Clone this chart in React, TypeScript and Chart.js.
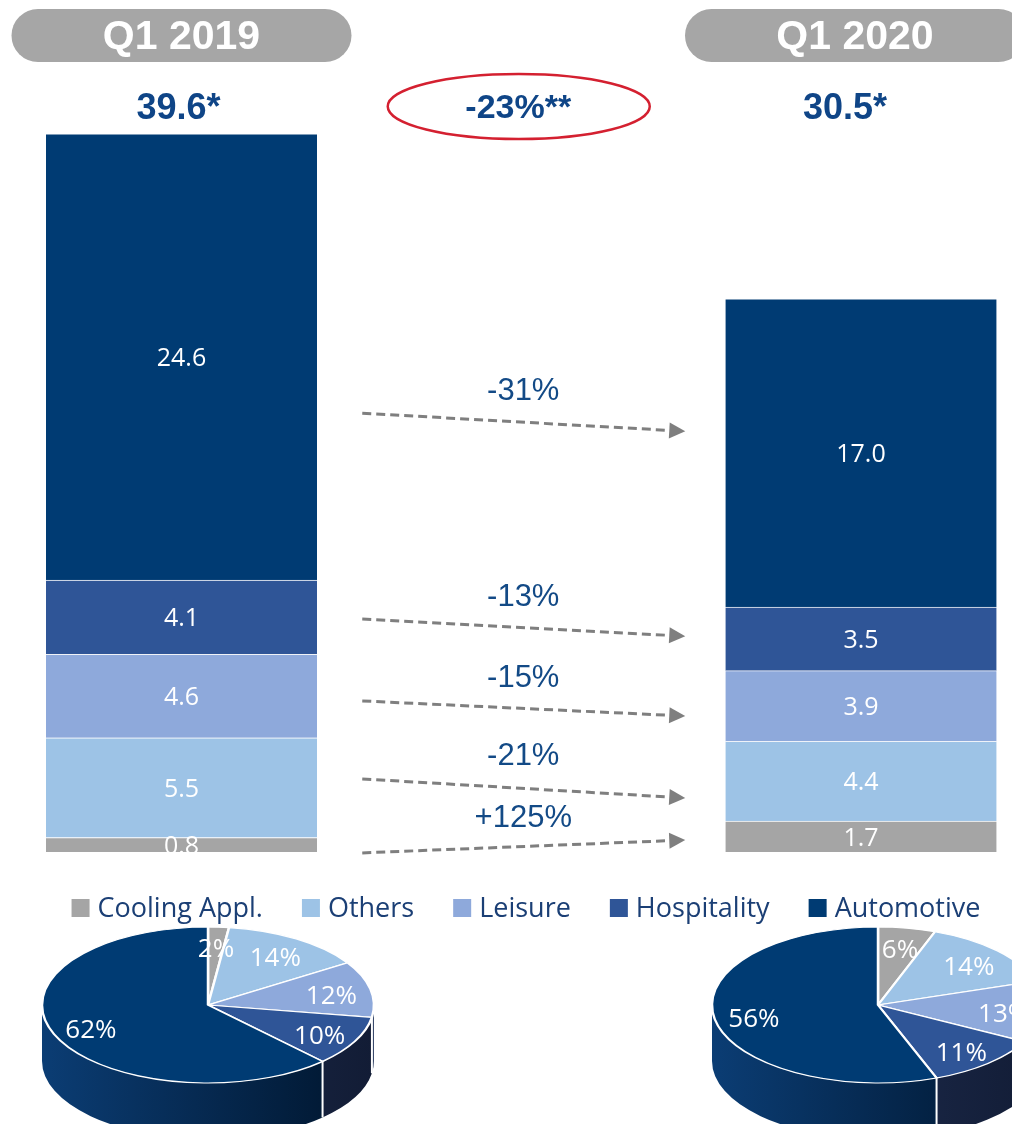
import React, { useEffect, useRef } from 'react';
import { Chart, registerables } from 'chart.js';

Chart.register(...registerables);

// ---- data ----
const PERIODS = ['Q1 2019', 'Q1 2020'];
const SEGMENTS = ['Cooling Appl.', 'Others', 'Leisure', 'Hospitality', 'Automotive'];
const Q1_2019 = [0.8, 5.5, 4.6, 4.1, 24.6];
const Q1_2020 = [1.7, 4.4, 3.9, 3.5, 17.0];
const CHANGE_LABELS = ['+125%', '-21%', '-15%', '-13%', '-31%'];
// arrow annotation levels in value units (left end, right end)
const ARROW_FROM = [-0.05, 4.03, 8.33, 12.85, 24.2];
const ARROW_TO = [0.66, 2.98, 7.5, 11.9, 23.2];

// ---- styles ----
const COLORS = ['#A5A5A5', '#9DC3E6', '#8EA9DB', '#2F5597', '#003B73'];
const SIDE_COLORS = [
  ['#6A6A6A', '#4A4A4A'],
  ['#6A86A3', '#4C6580'],
  ['#55688F', '#3A4A6C'],
  ['#22335A', '#121C35'],
  ['#0B3D74', '#00142B'],
];
const TEXT_BLUE = '#0F4587';
const LEGEND_BLUE = '#1B3F75';
const SANS = '"Liberation Sans", Arial, sans-serif';
const OPEN = '"Open Sans", "Noto Sans", sans-serif';
const PIE_K = 0.47;
const PIE_DEPTH = 56;

function pill(ctx: CanvasRenderingContext2D, cx: number, y: number, w: number, h: number) {
  const r = h / 2;
  const l = cx - w / 2, rt = cx + w / 2;
  ctx.beginPath();
  ctx.moveTo(l + r, y);
  ctx.lineTo(rt - r, y);
  ctx.arc(rt - r, y + r, r, -Math.PI / 2, Math.PI / 2);
  ctx.lineTo(l + r, y + h);
  ctx.arc(l + r, y + r, r, Math.PI / 2, Math.PI * 1.5);
  ctx.closePath();
  ctx.fill();
}

const barDecor = {
  id: 'barDecor',
  afterDatasetsDraw(chart: any) {
    const ctx = chart.ctx as CanvasRenderingContext2D;
    ctx.save();
    ctx.beginPath();
    ctx.rect(0, 0, chart.width, chart.chartArea.bottom);
    ctx.clip();
    ctx.fillStyle = '#FFFFFF';
    ctx.font = `25px ${OPEN}`;
    ctx.textAlign = 'center';
    ctx.textBaseline = 'middle';
    chart.data.datasets.forEach((ds: any, di: number) => {
      const meta = chart.getDatasetMeta(di);
      meta.data.forEach((el: any, i: number) => {
        const v = ds.data[i];
        if (v == null) return;
        ctx.fillText(Number(v).toFixed(1), el.x, (el.y + el.base) / 2 + 2);
      });
    });
    ctx.restore();
  },
  afterDraw(chart: any) {
    const ctx = chart.ctx as CanvasRenderingContext2D;
    const xs = chart.scales.x, ys = chart.scales.y;
    const c0 = xs.getPixelForValue(0), c1 = xs.getPixelForValue(1), c2 = xs.getPixelForValue(2);
    ctx.save();
    // period pills
    ctx.fillStyle = '#A6A6A6';
    pill(ctx, c0, 9, 340, 53);
    pill(ctx, c2 - 6, 9, 340, 53);
    ctx.fillStyle = '#FFFFFF';
    ctx.font = `bold 41px ${SANS}`;
    ctx.textAlign = 'center';
    ctx.textBaseline = 'middle';
    ctx.fillText(PERIODS[0], c0, 38);
    ctx.fillText(PERIODS[1], c2 - 6, 38);
    // totals
    const t0 = Q1_2019.reduce((a, b) => a + b, 0);
    const t1 = Q1_2020.reduce((a, b) => a + b, 0);
    ctx.fillStyle = TEXT_BLUE;
    ctx.font = `bold 36px ${SANS}`;
    ctx.fillText(t0.toFixed(1) + '*', c0 - 3, 109);
    ctx.fillText(t1.toFixed(1) + '*', c2 - 16, 109);
    ctx.font = `bold 34px ${SANS}`;
    const pct = Math.round((t1 / t0 - 1) * 100);
    ctx.fillText(`${pct}%**`, c1 - 3, 109);
    ctx.strokeStyle = '#D42030';
    ctx.lineWidth = 2.5;
    ctx.beginPath();
    ctx.ellipse(c1 - 2.5, 106.5, 131, 32.5, 0, 0, Math.PI * 2);
    ctx.stroke();

    // arrows
    const x0 = c1 - 159, x1 = c1 + 164;
    for (let i = 0; i < CHANGE_LABELS.length; i++) {
      const y0 = ys.getPixelForValue(ARROW_FROM[i]);
      const y1 = ys.getPixelForValue(ARROW_TO[i]);
      const ang = Math.atan2(y1 - y0, x1 - x0);
      const hl = 16, hw = 8;
      const bx = x1 - hl * Math.cos(ang), by = y1 - hl * Math.sin(ang);
      ctx.strokeStyle = '#7F7F7F';
      ctx.lineWidth = 3;
      ctx.setLineDash([9, 5]);
      ctx.beginPath();
      ctx.moveTo(x0, y0);
      ctx.lineTo(bx, by);
      ctx.stroke();
      ctx.setLineDash([]);
      ctx.fillStyle = '#7F7F7F';
      ctx.beginPath();
      ctx.moveTo(x1, y1);
      ctx.lineTo(bx - hw * Math.sin(ang), by + hw * Math.cos(ang));
      ctx.lineTo(bx + hw * Math.sin(ang), by - hw * Math.cos(ang));
      ctx.closePath();
      ctx.fill();
      ctx.fillStyle = '#134A86';
      ctx.font = `31px ${SANS}`;
      ctx.textAlign = 'center';
      ctx.textBaseline = 'middle';
      ctx.fillText(CHANGE_LABELS[i], c1 + 2, Math.min(y0, y1) - 22);
    }

    // legend
    ctx.font = `27px ${OPEN}`;
    const box = 18, gap = 8, spacing = 39;
    const widths = chart.data.datasets.map((d: any) => ctx.measureText(d.label).width);
    const total = widths.reduce((a: number, w: number) => a + box + gap + w, 0) + spacing * (widths.length - 1);
    let lx = 526 - total / 2;
    const ly = 908;
    chart.data.datasets.forEach((d: any, i: number) => {
      ctx.fillStyle = d.backgroundColor;
      ctx.fillRect(lx, ly - box / 2, box, box);
      ctx.fillStyle = LEGEND_BLUE;
      ctx.textAlign = 'left';
      ctx.textBaseline = 'middle';
      ctx.fillText(d.label, lx + box + gap, ly + 1);
      lx += box + gap + widths[i] + spacing;
    });
    ctx.restore();
  },
};

const pie3d = {
  id: 'pie3d',
  beforeDatasetsDraw(chart: any) {
    const ctx = chart.ctx as CanvasRenderingContext2D;
    const arcs = chart.getDatasetMeta(0).data;
    const cx = arcs[0].x, cy = arcs[0].y, r = arcs[0].outerRadius;
    const ry = r * PIE_K;
    ctx.save();
    arcs.forEach((arc: any, i: number) => {
      const a = Math.max(arc.startAngle, 0);
      const b = Math.min(arc.endAngle, Math.PI);
      if (a >= b) return;
      const g = ctx.createLinearGradient(cx - r, 0, cx + r, 0);
      g.addColorStop(0, SIDE_COLORS[i][0]);
      g.addColorStop(1, SIDE_COLORS[i][1]);
      ctx.fillStyle = g;
      ctx.beginPath();
      ctx.ellipse(cx, cy, r, ry, 0, a, b);
      ctx.lineTo(cx + r * Math.cos(b), cy + ry * Math.sin(b) + PIE_DEPTH);
      ctx.ellipse(cx, cy + PIE_DEPTH, r, ry, 0, b, a, true);
      ctx.closePath();
      ctx.fill();
    });
    ctx.strokeStyle = '#FFFFFF';
    ctx.lineWidth = 2;
    arcs.forEach((arc: any) => {
      const t = arc.endAngle;
      if (t > 0 && t < Math.PI) {
        const px = cx + r * Math.cos(t), py = cy + ry * Math.sin(t);
        ctx.beginPath();
        ctx.moveTo(px, py);
        ctx.lineTo(px, py + PIE_DEPTH);
        ctx.stroke();
      }
    });
    ctx.restore();
    ctx.save();
    ctx.translate(0, cy);
    ctx.scale(1, PIE_K);
    ctx.translate(0, -cy);
  },
  afterDatasetsDraw(chart: any) {
    const ctx = chart.ctx as CanvasRenderingContext2D;
    ctx.restore();
    const arcs = chart.getDatasetMeta(0).data;
    const vals = chart.data.datasets[0].data as number[];
    const sum = vals.reduce((a, b) => a + b, 0);
    ctx.save();
    ctx.fillStyle = '#FFFFFF';
    ctx.font = `26px ${OPEN}`;
    ctx.textAlign = 'center';
    ctx.textBaseline = 'middle';
    arcs.forEach((arc: any, i: number) => {
      const m = (arc.startAngle + arc.endAngle) / 2;
      const rf = 0.76;
      const x = arc.x + arc.outerRadius * rf * Math.cos(m);
      const y = arc.y + arc.outerRadius * PIE_K * rf * Math.sin(m) + 4;
      ctx.fillText(Math.round((vals[i] / sum) * 100) + '%', x, y);
    });
    ctx.restore();
  },
};

function barConfig(): any {
  return {
    type: 'bar',
    data: {
      labels: [PERIODS[0], '', PERIODS[1]],
      datasets: SEGMENTS.map((s, i) => ({
        label: s,
        data: [Q1_2019[i], null, Q1_2020[i]],
        backgroundColor: COLORS[i],
        borderColor: 'rgba(255,255,255,0.6)',
        borderWidth: { top: 1, left: 0, right: 0, bottom: 0 },
        borderSkipped: false,
        barThickness: 271,
        clip: false,
      })),
    },
    options: {
      responsive: false,
      animation: false,
      events: [],
      layout: { padding: { left: 181.5, right: 151, top: 36, bottom: 272 } },
      scales: {
        x: { stacked: true, display: false, offset: false },
        y: { stacked: true, display: false, min: 0, max: 45 },
      },
      plugins: { legend: { display: false }, tooltip: { enabled: false } },
    },
    plugins: [barDecor],
  };
}

function pieConfig(values: number[], padLeft: number, padRight: number): any {
  return {
    type: 'pie',
    data: {
      labels: SEGMENTS,
      datasets: [{
        data: values,
        backgroundColor: COLORS,
        borderColor: '#FFFFFF',
        borderWidth: 2.5,
        clip: false,
      }],
    },
    options: {
      responsive: false,
      animation: false,
      events: [],
      radius: 166,
      layout: { padding: { left: padLeft, right: padRight, top: 905, bottom: 19 } },
      plugins: { legend: { display: false }, tooltip: { enabled: false } },
    },
    plugins: [pie3d],
  };
}

export default function App() {
  const barRef = useRef<HTMLCanvasElement>(null);
  const pie1Ref = useRef<HTMLCanvasElement>(null);
  const pie2Ref = useRef<HTMLCanvasElement>(null);

  useEffect(() => {
    const charts = [
      new Chart(barRef.current as HTMLCanvasElement, barConfig()),
      new Chart(pie1Ref.current as HTMLCanvasElement, pieConfig(Q1_2019, 0, 596)),
      new Chart(pie2Ref.current as HTMLCanvasElement, pieConfig(Q1_2020, 744, 0)),
    ];
    return () => charts.forEach((c) => c.destroy());
  }, []);

  const st: React.CSSProperties = { position: 'absolute', left: 0, top: 0 };
  return (
    <div style={{ position: 'absolute', left: 0, top: 0, width: 1012, height: 1124, overflow: 'hidden', background: '#FFFFFF' }}>
      <canvas ref={barRef} width={1012} height={1124} style={st} />
      <canvas ref={pie1Ref} width={1012} height={1124} style={st} />
      <canvas ref={pie2Ref} width={1012} height={1124} style={st} />
    </div>
  );
}
